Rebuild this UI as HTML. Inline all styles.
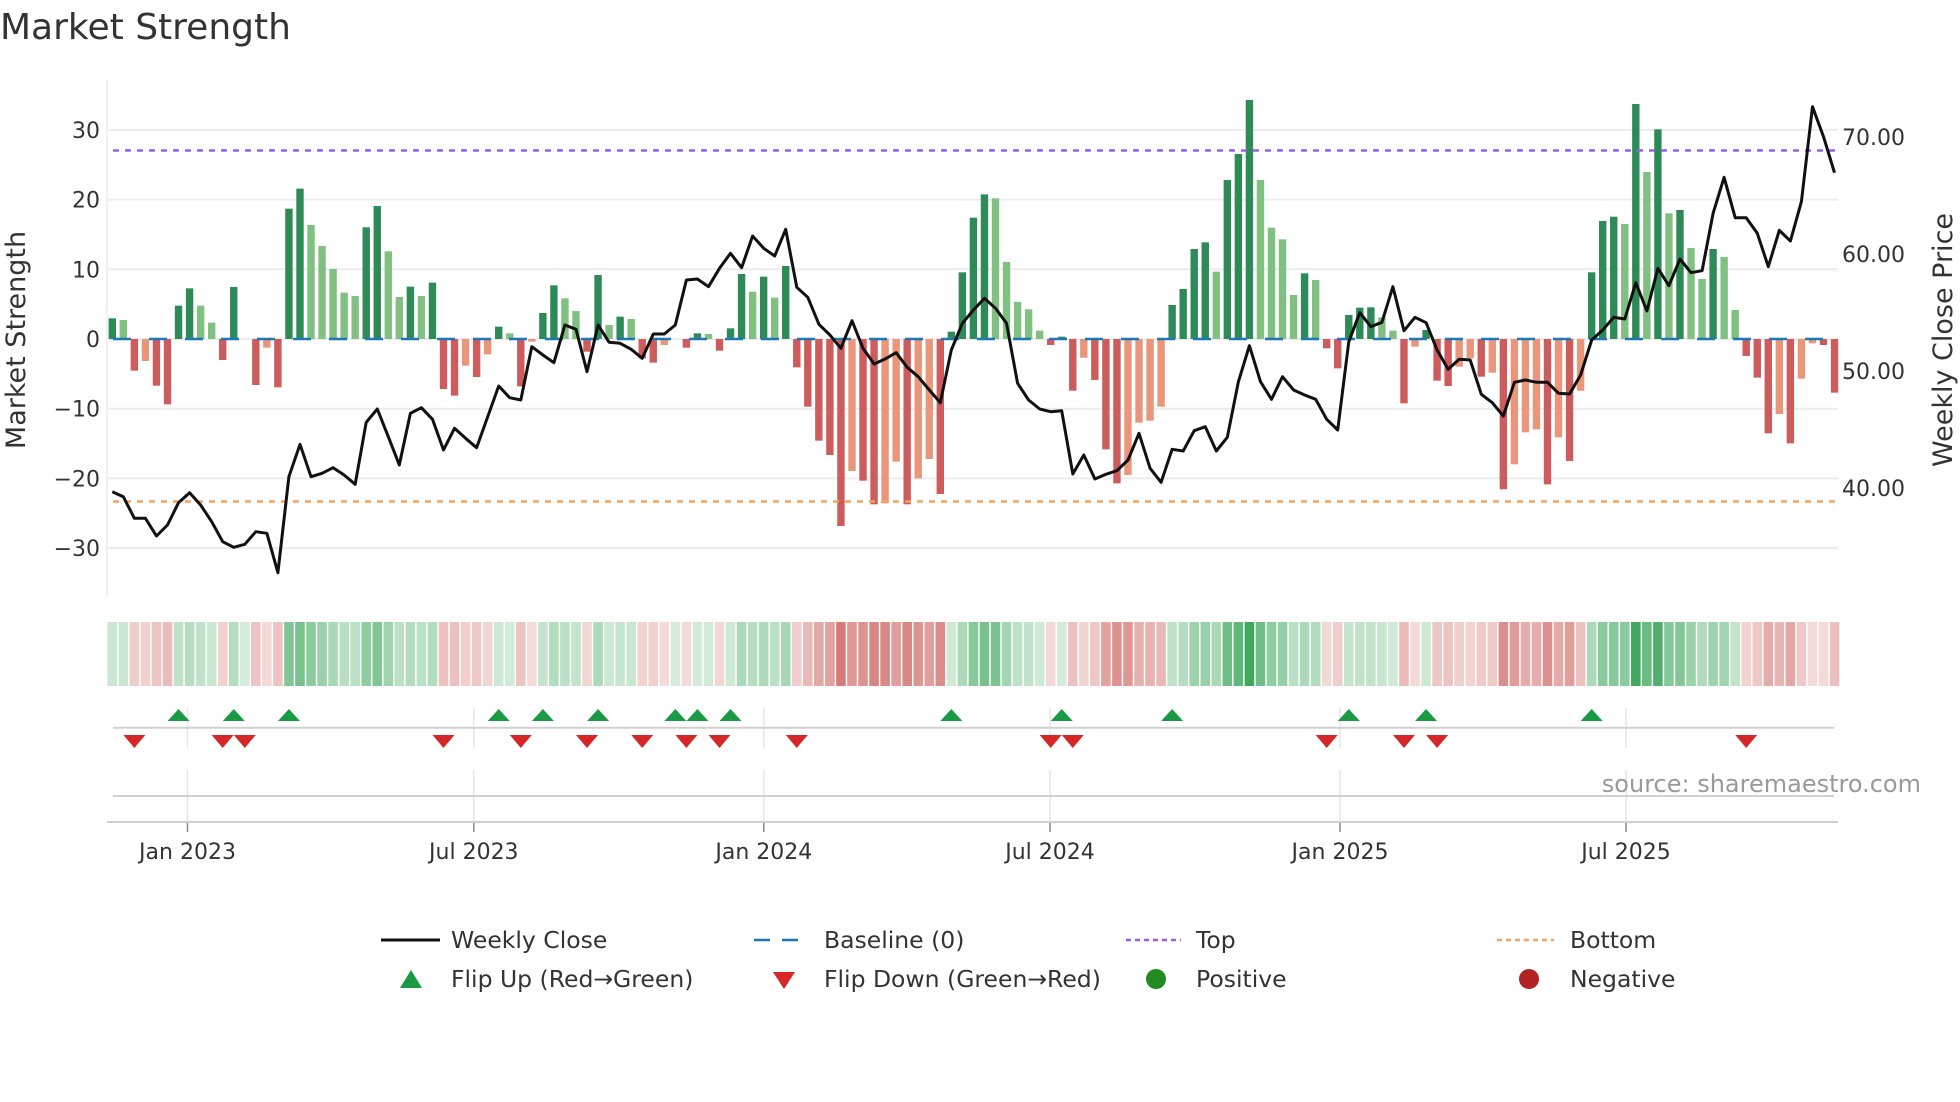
<!DOCTYPE html>
<html><head><meta charset="utf-8"><style>
html,body{margin:0;padding:0;background:#fff;}
svg{display:block;}
text{font-family:"DejaVu Sans","Liberation Sans",sans-serif;}
</style></head><body>
<svg id="c" width="1960" height="1102" viewBox="0 0 1960 1102" xmlns="http://www.w3.org/2000/svg">
<rect width="1960" height="1102" fill="#fff"/>
<text x="0" y="39" font-size="36" fill="#333">Market Strength</text>
<g id="grid"></g>
<g id="bars"></g>
<g id="heat"></g>
<g id="lines"></g>
<g id="ax" font-size="22" fill="#333"></g>
<text x="1921" y="792" font-size="24" fill="#999" text-anchor="end">source: sharemaestro.com</text>
<text transform="translate(25,340) rotate(-90)" font-size="27" fill="#333" text-anchor="middle">Market Strength</text>
<text transform="translate(1952,340) rotate(-90)" font-size="27" fill="#333" text-anchor="middle">Weekly Close Price</text>
<g font-size="23.5" fill="#333">
<line x1="381" y1="940" x2="440" y2="940" stroke="#111" stroke-width="3"/>
<text x="451" y="948">Weekly Close</text>
<line x1="754" y1="940" x2="806" y2="940" stroke="#1f77b4" stroke-width="2.5" stroke-dasharray="16,12"/>
<text x="824" y="948">Baseline (0)</text>
<line x1="1126" y1="940" x2="1181" y2="940" stroke="#9b5fe0" stroke-width="2.5" stroke-dasharray="5,4"/>
<text x="1196" y="948">Top</text>
<line x1="1497" y1="940" x2="1554" y2="940" stroke="#f4a460" stroke-width="2.5" stroke-dasharray="5,4"/>
<text x="1570" y="948">Bottom</text>
<polygon points="400,988 422,988 411,970" fill="#1a9a44"/>
<text x="451" y="987">Flip Up (Red→Green)</text>
<polygon points="773,972 795,972 784,989" fill="#d62728"/>
<text x="824" y="987">Flip Down (Green→Red)</text>
<circle cx="1156" cy="979" r="10" fill="#228b22"/>
<text x="1196" y="987">Positive</text>
<circle cx="1529" cy="979" r="10" fill="#b22222"/>
<text x="1570" y="987">Negative</text>
</g>
</svg>
<script>
var B="715D 720L 872R 843O 917R 973R 677D 625D 677L 728L 840R 621D 777- 915R 803O 922R 386D 326D 435L 498L 567L 638L 648L 442D 378D 514L 651L 620D 648L 608D 927R 947R 857O 891R 823O 740D 760L 919R 785O 699D 616D 655L 693L 815R 585D 735L 710D 717L 835R 848R 795O 777- 803R 760D 762L 812R 745D 582D 635L 590D 653L 558D 862R 980R 1082R 1125R 1338R 1173O 1202R 1273R 1270O 1145O 1273R 1195O 1137O 1242R 755D 577D 413D 343D 355L 546L 666L 688L 752L 795R 770D 932R 833O 900R 1108R 1210R 1185O 1028O 1022O 980O 675D 627D 507D 487D 575L 300D 222D 60D 300L 443L 478L 645L 580D 600L 805R 865R 705D 683D 682D 712L 752L 970R 800O 750D 902R 918R 860O 835O 890R 878O 1228R 1153O 1057O 1048O 1213R 1072O 1143R 932O 577D 423D 410D 432L 72D 276L 148D 400L 390D 504L 597L 507D 531L 690L 828R 893R 1060R 1002O 1090R 896O 790O 795R 938R".split(" ");
var L=[1235,1250,1315,1315,1368,1335,1268,1238,1275,1325,1385,1402,1393,1355,1360,1478,1190,1093,1190,1180,1163,1185,1213,1027,987,1070,1155,1000,983,1018,1110,1045,1075,1103,1010,918,953,960,800,825,848,735,748,875,735,787,790,808,835,762,762,735,600,597,620,565,520,563,468,505,528,448,622,652,733,765,805,722,805,852,837,818,862,890,930,968,810,730,690,655,685,730,910,960,987,995,992,1182,1125,1197,1183,1172,1140,1060,1165,1207,1108,1113,1052,1040,1113,1072,905,797,905,958,890,930,945,958,1018,1050,785,698,740,727,620,752,712,728,810,868,838,840,943,968,1008,907,900,907,907,940,942,885,780,750,712,717,608,693,565,617,537,578,572,400,292,413,413,460,560,451,483,365,80,170,278];
var NS="http://www.w3.org/2000/svg";
function el(p,t,a){var e=document.createElementNS(NS,t);for(var k in a)e.setAttribute(k,a[k]);p.appendChild(e);return e;}
var X=function(k){return 112.3+11.04*k;};
var g=document.getElementById("grid"),bars=document.getElementById("bars"),heat=document.getElementById("heat"),ln=document.getElementById("lines"),ax=document.getElementById("ax");
[30,20,10,0,-10,-20,-30].forEach(function(v){var y=339-v*6.97;el(g,"line",{x1:107,x2:1838,y1:y,y2:y,stroke:"#ececec","stroke-width":2});
 var t=el(ax,"text",{x:100,y:y+8,"text-anchor":"end"});t.textContent=(v<0?"\u2212":"")+Math.abs(v);});
el(g,"line",{x1:107,x2:107,y1:80,y2:598,stroke:"#eee","stroke-width":1.5});
[70,60,50,40].forEach(function(p){var y=371-(p-50)*11.71;var t=el(ax,"text",{x:1842,y:y+8});t.textContent=p.toFixed(2);});
var col={D:"#2e8b57",L:"#80c080",R:"#cd5c5c",O:"#e9967a"};
B.forEach(function(s,k){var zy=parseInt(s),c=s.slice(-1);var x=X(k);
 var v=(777-zy)/20.9;
 if(c!="-"){var ye=zy/3+80;el(bars,"rect",{x:x-3.7,width:7.4,y:Math.min(339,ye),height:Math.abs(ye-339),fill:col[c]});}
 var t=Math.min(Math.abs(v)/34,1);var a=0.2+0.72*t;
 var base=v>=0?[46,160,80]:[200,85,80];
 var rgb=base.map(function(b){return Math.round(255-(255-b)*a);});
 el(heat,"rect",{x:x-5.5+0.7,width:9.6,y:622,height:64,fill:"rgb("+rgb.join(",")+")"});
});
el(ln,"line",{x1:113,x2:1835,y1:339,y2:339,stroke:"#1f77b4","stroke-width":2.5,"stroke-dasharray":"18,18"});
el(ln,"line",{x1:113,x2:1835,y1:150.5,y2:150.5,stroke:"#9b5fe0","stroke-width":2.5,"stroke-dasharray":"6,6"});
el(ln,"line",{x1:113,x2:1835,y1:501.5,y2:501.5,stroke:"#f4a460","stroke-width":2.5,"stroke-dasharray":"6,6"});
var pts=L.map(function(zy,k){return X(k).toFixed(1)+","+(zy/3+80).toFixed(1);}).join(" ");
el(ln,"polyline",{points:pts,fill:"none",stroke:"#111","stroke-width":3,"stroke-linejoin":"round"});
var ticks=[[187.5,"Jan 2023"],[473.8,"Jul 2023"],[763.8,"Jan 2024"],[1050,"Jul 2024"],[1340,"Jan 2025"],[1626,"Jul 2025"]];
ticks.forEach(function(t){el(ax,"line",{x1:t[0],x2:t[0],y1:708,y2:748,stroke:"#e6e6e6","stroke-width":1.5});
 el(ax,"line",{x1:t[0],x2:t[0],y1:770,y2:822,stroke:"#e6e6e6","stroke-width":1.5});
 el(ax,"line",{x1:t[0],x2:t[0],y1:822,y2:832,stroke:"#888","stroke-width":1.5});
 var tx=el(ax,"text",{x:t[0],y:859,"text-anchor":"middle"});tx.textContent=t[1];});
el(ax,"line",{x1:113,x2:1834,y1:727.7,y2:727.7,stroke:"#d0d0d0","stroke-width":2});
el(ax,"line",{x1:113,x2:1834,y1:796,y2:796,stroke:"#d0d0d0","stroke-width":2});
el(ax,"line",{x1:107,x2:1838,y1:822,y2:822,stroke:"#d0d0d0","stroke-width":2});
[6,11,16,35,39,44,51,53,56,76,86,96,112,119,134].forEach(function(k){var x=X(k);
 el(ax,"polygon",{points:(x-11)+",721 "+(x+11)+",721 "+x+",709",fill:"#1a9a44"});});
[2,10,12,30,37,43,48,52,55,62,85,87,110,117,120,148].forEach(function(k){var x=X(k);
 el(ax,"polygon",{points:(x-11)+",735 "+(x+11)+",735 "+x+",748",fill:"#d62728"});});
</script>
</body></html>
